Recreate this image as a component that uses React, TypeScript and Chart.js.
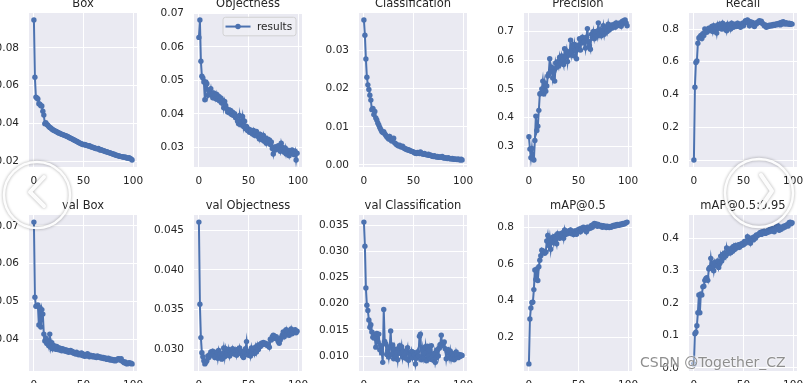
import { useEffect, useRef } from "react";
import { Chart, registerables } from "chart.js";

Chart.register(...registerables);

// ---------------- data ----------------
const epochs: number[] = Array.from({ length: 100 }, (_, i) => i);

const boxLoss = [
  0.0947, 0.0645, 0.054, 0.0535, 0.053, 0.0505, 0.0502, 0.0495, 0.0493, 0.0465,
  0.0445, 0.04, 0.0405, 0.0395, 0.0392, 0.0385, 0.038, 0.0377, 0.0372, 0.0368,
  0.0365, 0.0362, 0.036, 0.0357, 0.0353, 0.0351, 0.0349, 0.0346, 0.0344, 0.0342,
  0.034, 0.0338, 0.0336, 0.0333, 0.0332, 0.0328, 0.0326, 0.0323, 0.0321, 0.0318,
  0.0315, 0.0312, 0.0309, 0.0307, 0.0304, 0.0301, 0.0298, 0.0296, 0.0293, 0.0291,
  0.0289, 0.029, 0.0287, 0.0286, 0.0284, 0.0282, 0.0283, 0.0279, 0.0277, 0.0276,
  0.0274, 0.0272, 0.027, 0.0268, 0.0267, 0.0269, 0.0264, 0.026, 0.0262, 0.0259,
  0.0257, 0.0256, 0.0253, 0.0252, 0.025, 0.0248, 0.0246, 0.0245, 0.0243, 0.0241,
  0.0239, 0.0238, 0.0235, 0.0233, 0.0232, 0.023, 0.0229, 0.0227, 0.0226, 0.0225,
  0.0224, 0.0222, 0.0224, 0.022, 0.0219, 0.0217, 0.022, 0.0215, 0.0214, 0.0208,
];

const objLoss = [
  0.0628, 0.068, 0.0557, 0.0512, 0.0507, 0.0495, 0.0442, 0.0495, 0.049, 0.0455,
  0.047, 0.0462, 0.0475, 0.0455, 0.0448, 0.0462, 0.0455, 0.0445, 0.0458, 0.0443,
  0.0452, 0.0438, 0.0447, 0.0432, 0.044, 0.0418, 0.0437, 0.0425, 0.0415, 0.0405,
  0.0412, 0.0402, 0.041, 0.0398, 0.0405, 0.0395, 0.04, 0.0388, 0.0392, 0.0378,
  0.037, 0.0395, 0.0368, 0.0375, 0.0392, 0.0362, 0.0378, 0.0356, 0.0362, 0.035,
  0.0355, 0.0345, 0.0352, 0.0348, 0.034, 0.035, 0.0336, 0.0345, 0.0347, 0.0333,
  0.034, 0.0325, 0.0338, 0.033, 0.0322, 0.0335, 0.0318, 0.0328, 0.0312, 0.0325,
  0.0315, 0.0322, 0.0308, 0.0316, 0.0296, 0.028, 0.03, 0.0292, 0.0302, 0.0295,
  0.0305, 0.0298, 0.0288, 0.0312, 0.03, 0.0295, 0.0285, 0.0298, 0.028, 0.0292,
  0.0287, 0.0275, 0.029, 0.0282, 0.0292, 0.0285, 0.0278, 0.0288, 0.0262, 0.0282,
];

const clsLoss = [
  0.038, 0.034, 0.0278, 0.023, 0.021, 0.0198, 0.0183, 0.017, 0.0145, 0.0148,
  0.0132, 0.014, 0.0123, 0.0118, 0.011, 0.0105, 0.0098, 0.0093, 0.0088, 0.0085,
  0.0087, 0.0082, 0.0078, 0.0074, 0.0071, 0.0068, 0.0075, 0.0066, 0.0063, 0.0068,
  0.007, 0.0058, 0.0056, 0.0053, 0.0052, 0.005, 0.0052, 0.0048, 0.0047, 0.0049,
  0.0045, 0.0043, 0.0042, 0.0041, 0.0039, 0.004, 0.0038, 0.0037, 0.0036, 0.0035,
  0.0034, 0.0032, 0.0031, 0.003, 0.0033, 0.0031, 0.003, 0.0034, 0.0031, 0.0029,
  0.0028, 0.003, 0.0028, 0.0027, 0.0026, 0.0028, 0.0025, 0.0026, 0.0024, 0.0023,
  0.0022, 0.0024, 0.0022, 0.0021, 0.0022, 0.002, 0.0021, 0.0021, 0.002, 0.0022,
  0.0019, 0.0018, 0.0019, 0.0018, 0.0017, 0.0019, 0.0017, 0.0016, 0.0016, 0.0017,
  0.0015, 0.0016, 0.0015, 0.0015, 0.0014, 0.0016, 0.0014, 0.0013, 0.0015, 0.0013,
];

const precision = [
  0.333, 0.29, 0.26, 0.292, 0.256, 0.252, 0.32, 0.405, 0.355, 0.37,
  0.425, 0.482, 0.485, 0.5, 0.527, 0.482, 0.52, 0.492, 0.51, 0.545,
  0.553, 0.605, 0.56, 0.575, 0.538, 0.56, 0.527, 0.59, 0.575, 0.595,
  0.58, 0.61, 0.59, 0.615, 0.6, 0.585, 0.64, 0.612, 0.632, 0.595,
  0.625, 0.618, 0.67, 0.625, 0.65, 0.615, 0.655, 0.635, 0.605, 0.65,
  0.64, 0.675, 0.635, 0.67, 0.68, 0.66, 0.665, 0.642, 0.68, 0.71,
  0.665, 0.65, 0.638, 0.69, 0.68, 0.7, 0.675, 0.69, 0.7, 0.685,
  0.73, 0.69, 0.705, 0.685, 0.7, 0.72, 0.69, 0.71, 0.715, 0.7,
  0.725, 0.705, 0.71, 0.722, 0.712, 0.718, 0.725, 0.715, 0.73, 0.72,
  0.728, 0.722, 0.73, 0.718, 0.735, 0.728, 0.738, 0.74, 0.73, 0.72,
];

const recall = [
  0.0, 0.445, 0.595, 0.605, 0.713, 0.745, 0.752, 0.76, 0.742, 0.772,
  0.76, 0.8, 0.795, 0.78, 0.79, 0.805, 0.79, 0.8, 0.815, 0.785,
  0.82, 0.8, 0.81, 0.775, 0.825, 0.805, 0.83, 0.81, 0.8, 0.835,
  0.815, 0.8, 0.82, 0.79, 0.83, 0.81, 0.825, 0.8, 0.835, 0.82,
  0.81, 0.83, 0.82, 0.815, 0.835, 0.82, 0.83, 0.81, 0.825, 0.835,
  0.82, 0.84, 0.85, 0.845, 0.855, 0.835, 0.82, 0.845, 0.83, 0.84,
  0.825, 0.815, 0.835, 0.83, 0.84, 0.845, 0.85, 0.84, 0.848, 0.835,
  0.83, 0.82, 0.825, 0.81, 0.82, 0.815, 0.823, 0.818, 0.825, 0.82,
  0.828, 0.822, 0.83, 0.825, 0.832, 0.828, 0.835, 0.825, 0.84, 0.83,
  0.845, 0.835, 0.83, 0.838, 0.832, 0.83, 0.835, 0.828, 0.833, 0.83,
];

const valBoxLoss = [
  0.071, 0.0511, 0.0487, 0.0488, 0.049, 0.0437, 0.0483, 0.0432, 0.0478, 0.0466,
  0.0413, 0.0395, 0.0402, 0.0388, 0.0395, 0.0382, 0.0413, 0.0378, 0.039, 0.0374,
  0.0383, 0.0376, 0.0373, 0.038, 0.0372, 0.0377, 0.0371, 0.0375, 0.0369, 0.0374,
  0.037, 0.0368, 0.0372, 0.0367, 0.037, 0.0365, 0.0368, 0.037, 0.0365, 0.0367,
  0.0362, 0.0364, 0.036, 0.0365, 0.0361, 0.0358, 0.0362, 0.0358, 0.0363, 0.0356,
  0.036, 0.0354, 0.0358, 0.0355, 0.0361, 0.0356, 0.0353, 0.0357, 0.0355, 0.0353,
  0.0356, 0.0352, 0.0354, 0.0351, 0.0355, 0.0352, 0.0353, 0.035, 0.0352, 0.0349,
  0.0351, 0.0348, 0.035, 0.0347, 0.0346, 0.0349, 0.0345, 0.0347, 0.0344, 0.0346,
  0.0343, 0.0345, 0.0342, 0.0344, 0.0346, 0.0348, 0.0347, 0.0344, 0.0348, 0.0342,
  0.034, 0.0337, 0.0339, 0.0335, 0.0334, 0.0336, 0.0337, 0.0335, 0.0336, 0.0334,
];

const valObjLoss = [
  0.046, 0.0357, 0.0315, 0.0296, 0.0291, 0.0286, 0.0282, 0.0284, 0.0286, 0.0292,
  0.029, 0.0294, 0.0297, 0.0293, 0.0298, 0.0295, 0.029, 0.0293, 0.0297, 0.0289,
  0.0299, 0.0294, 0.029, 0.0288, 0.0295, 0.0302, 0.0291, 0.0301, 0.0295, 0.0293,
  0.03, 0.0292, 0.0298, 0.0295, 0.0301, 0.0296, 0.0294, 0.0299, 0.0293, 0.03,
  0.0296, 0.0302, 0.0295, 0.0298, 0.0292, 0.029, 0.0297, 0.0301, 0.031, 0.0294,
  0.0293, 0.0298, 0.0292, 0.0302, 0.0296, 0.03, 0.0295, 0.0303, 0.0297, 0.0305,
  0.03, 0.0306, 0.0304, 0.0308, 0.0306, 0.0309, 0.0307, 0.0308, 0.0306, 0.0305,
  0.0307, 0.0303, 0.0313, 0.0312, 0.0316, 0.0318, 0.0317, 0.0314, 0.0316, 0.0313,
  0.031, 0.0308, 0.0312, 0.0315, 0.0318, 0.0322, 0.0316, 0.032, 0.0325, 0.0319,
  0.0323, 0.0318, 0.0321, 0.0326, 0.032, 0.0324, 0.0322, 0.0325, 0.0321, 0.0323,
];

const valClsLoss = [
  0.0356, 0.031, 0.023, 0.0197, 0.0187, 0.0169, 0.0155, 0.016, 0.0146, 0.0136,
  0.0142, 0.0134, 0.0117, 0.0143, 0.0128, 0.0142, 0.0112, 0.012, 0.0106, 0.0088,
  0.0189, 0.0128, 0.0123, 0.0103, 0.011, 0.0098, 0.0118, 0.0148, 0.0103, 0.0121,
  0.0095, 0.0113, 0.01, 0.0107, 0.0093, 0.0115, 0.012, 0.0105, 0.0118, 0.0098,
  0.011, 0.0102, 0.0096, 0.0108, 0.0116, 0.0092, 0.0105, 0.01, 0.0109, 0.0097,
  0.0107, 0.0102, 0.0085, 0.0096, 0.0108, 0.01, 0.0138, 0.0142, 0.0093, 0.0112,
  0.0096, 0.0105, 0.0118, 0.0091, 0.0119, 0.01, 0.0112, 0.0094, 0.012, 0.0098,
  0.0092, 0.0105, 0.0088, 0.0097, 0.0112, 0.01, 0.0115, 0.0122, 0.014, 0.012,
  0.0125, 0.0127, 0.0114, 0.0095, 0.0108, 0.0112, 0.0098, 0.011, 0.0095, 0.0105,
  0.01, 0.0093, 0.0096, 0.0108, 0.0101, 0.0097, 0.0103, 0.0099, 0.0102, 0.0101,
];

const map50 = [
  0.055, 0.3, 0.36, 0.39, 0.392, 0.46, 0.567, 0.515, 0.572, 0.51,
  0.585, 0.62, 0.645, 0.675, 0.662, 0.67, 0.658, 0.665, 0.725, 0.755,
  0.7, 0.74, 0.68, 0.725, 0.745, 0.715, 0.75, 0.735, 0.71, 0.765,
  0.75, 0.74, 0.765, 0.755, 0.77, 0.74, 0.785, 0.76, 0.775, 0.765,
  0.78, 0.77, 0.785, 0.765, 0.775, 0.76, 0.78, 0.77, 0.762, 0.785,
  0.78, 0.79, 0.775, 0.795, 0.785, 0.8, 0.79, 0.795, 0.775, 0.8,
  0.79, 0.8, 0.795, 0.81, 0.8, 0.815, 0.82, 0.81, 0.818, 0.805,
  0.815, 0.81, 0.805, 0.81, 0.8, 0.808, 0.802, 0.805, 0.798, 0.805,
  0.8, 0.798, 0.804, 0.8, 0.806, 0.81, 0.805, 0.812, 0.808, 0.815,
  0.81, 0.815, 0.812, 0.818, 0.815, 0.82, 0.818, 0.822, 0.825, 0.828,
];

const map5095 = [
  0.012, 0.105, 0.11, 0.13, 0.17, 0.225, 0.17, 0.228, 0.225, 0.25,
  0.252, 0.27, 0.275, 0.278, 0.27, 0.305, 0.31, 0.338, 0.31, 0.322,
  0.3, 0.325, 0.315, 0.32, 0.33, 0.31, 0.322, 0.345, 0.33, 0.35,
  0.34, 0.355, 0.345, 0.37, 0.352, 0.36, 0.365, 0.355, 0.37, 0.36,
  0.375, 0.365, 0.378, 0.37, 0.375, 0.38, 0.372, 0.382, 0.378, 0.385,
  0.38, 0.39, 0.385, 0.392, 0.405, 0.395, 0.4, 0.385, 0.398, 0.402,
  0.395, 0.405, 0.4, 0.41, 0.408, 0.412, 0.415, 0.418, 0.412, 0.42,
  0.418, 0.422, 0.415, 0.42, 0.418, 0.425, 0.42, 0.428, 0.422, 0.43,
  0.425, 0.42, 0.428, 0.435, 0.43, 0.438, 0.425, 0.432, 0.428, 0.435,
  0.432, 0.438, 0.435, 0.44, 0.442, 0.438, 0.448, 0.45, 0.445, 0.448,
];

const xTicks = [0, 50, 100];
const boxTicks = [0.02, 0.04, 0.06, 0.08];
const objTicks = [0.03, 0.04, 0.05, 0.06, 0.07];
const clsTicks = [0.0, 0.01, 0.02, 0.03];
const precTicks = [0.3, 0.4, 0.5, 0.6, 0.7];
const recTicks = [0.0, 0.2, 0.4, 0.6, 0.8];
const valBoxTicks = [0.04, 0.05, 0.06, 0.07];
const valObjTicks = [0.03, 0.035, 0.04, 0.045];
const valClsTicks = [0.01, 0.015, 0.02, 0.025, 0.03, 0.035];
const map50Ticks = [0.2, 0.4, 0.6, 0.8];
const map5095Ticks = [0.0, 0.1, 0.2, 0.3, 0.4];

// ---------------- layout / style ----------------
const BLUE = "#4C72B0";
const BG = "#EAEAF2";
const TEXT = "#262626";
const COL_LEFT = [29, 194, 359, 524, 689];
const ROW_TOP = [13, 215];
const ROW_H = [154, 156];
const PLOT_W = 108;
const Y_AXIS_W = 50;
const TITLE_SPACE = 22;
const X_AXIS_H = 25;
const RIGHT_PAD = 18;

type Panel = {
  title: string;
  values: number[];
  ticks: number[];
  dec: number;
  col: number;
  row: number;
  legend?: boolean;
};

const panels: Panel[] = [
  { title: "Box", values: boxLoss, ticks: boxTicks, dec: 2, col: 0, row: 0 },
  { title: "Objectness", values: objLoss, ticks: objTicks, dec: 2, col: 1, row: 0, legend: true },
  { title: "Classification", values: clsLoss, ticks: clsTicks, dec: 2, col: 2, row: 0 },
  { title: "Precision", values: precision, ticks: precTicks, dec: 1, col: 3, row: 0 },
  { title: "Recall", values: recall, ticks: recTicks, dec: 1, col: 4, row: 0 },
  { title: "val Box", values: valBoxLoss, ticks: valBoxTicks, dec: 2, col: 0, row: 1 },
  { title: "val Objectness", values: valObjLoss, ticks: valObjTicks, dec: 3, col: 1, row: 1 },
  { title: "val Classification", values: valClsLoss, ticks: valClsTicks, dec: 3, col: 2, row: 1 },
  { title: "mAP@0.5", values: map50, ticks: map50Ticks, dec: 1, col: 3, row: 1 },
  { title: "mAP@0.5:0.95", values: map5095, ticks: map5095Ticks, dec: 1, col: 4, row: 1 },
];

const bgPlugin = {
  id: "bgPlugin",
  beforeDraw(chart: any) {
    const { ctx, chartArea: a } = chart;
    ctx.save();
    ctx.fillStyle = BG;
    ctx.fillRect(a.left, a.top, a.right - a.left, a.bottom - a.top);
    ctx.restore();
  },
};

const titlePlugin = {
  id: "titlePlugin",
  afterDraw(chart: any, _args: any, opts: any) {
    const { ctx, chartArea: a } = chart;
    ctx.save();
    ctx.font = '11.5px "DejaVu Sans"';
    ctx.fillStyle = TEXT;
    ctx.textAlign = "center";
    ctx.textBaseline = "alphabetic";
    ctx.fillText(opts.text || "", (a.left + a.right) / 2, a.top - 6.5);
    ctx.restore();
  },
};

const legendPlugin = {
  id: "legendPlugin",
  afterDraw(chart: any, _args: any, opts: any) {
    if (!opts.show) return;
    const { ctx, chartArea: a } = chart;
    const w = 73;
    const h = 18.5;
    const x = a.right - 6 - w;
    const y = a.top + 4.3;
    ctx.save();
    ctx.beginPath();
    const r = 2.5;
    ctx.moveTo(x + r, y);
    ctx.lineTo(x + w - r, y);
    ctx.quadraticCurveTo(x + w, y, x + w, y + r);
    ctx.lineTo(x + w, y + h - r);
    ctx.quadraticCurveTo(x + w, y + h, x + w - r, y + h);
    ctx.lineTo(x + r, y + h);
    ctx.quadraticCurveTo(x, y + h, x, y + h - r);
    ctx.lineTo(x, y + r);
    ctx.quadraticCurveTo(x, y, x + r, y);
    ctx.closePath();
    ctx.fillStyle = "rgba(238,238,244,0.85)";
    ctx.fill();
    ctx.strokeStyle = "#CCCCCC";
    ctx.lineWidth = 0.8;
    ctx.stroke();
    const cy = y + h / 2;
    ctx.strokeStyle = BLUE;
    ctx.lineWidth = 2;
    ctx.beginPath();
    ctx.moveTo(x + 2.5, cy);
    ctx.lineTo(x + 27.5, cy);
    ctx.stroke();
    ctx.fillStyle = BLUE;
    ctx.beginPath();
    ctx.arc(x + 15, cy, 2.7, 0, Math.PI * 2);
    ctx.fill();
    ctx.font = '10.5px "DejaVu Sans"';
    ctx.fillStyle = TEXT;
    ctx.textAlign = "left";
    ctx.textBaseline = "middle";
    ctx.fillText("results", x + 34, cy + 0.5);
    ctx.restore();
  },
};

function PanelChart({ p }: { p: Panel }) {
  const ref = useRef<HTMLCanvasElement | null>(null);
  const plotH = ROW_H[p.row];
  const W = Y_AXIS_W + PLOT_W + RIGHT_PAD;
  const H = TITLE_SPACE + plotH + X_AXIS_H;

  useEffect(() => {
    if (!ref.current) return;
    const lo = Math.min(...p.values);
    const hi = Math.max(...p.values);
    const pad = (hi - lo) * 0.05;
    const font = { family: "DejaVu Sans", size: 10.5 };
    const chart = new Chart(ref.current, {
      type: "line",
      data: {
        datasets: [
          {
            label: "results",
            data: p.values.map((v, i) => ({ x: epochs[i], y: v })),
            borderColor: BLUE,
            backgroundColor: BLUE,
            borderWidth: 2,
            pointRadius: 2.7,
            pointBorderWidth: 0,
            pointBackgroundColor: BLUE,
            tension: 0,
          },
        ],
      },
      options: {
        responsive: false,
        animation: false,
        devicePixelRatio: 1,
        events: [],
        layout: { padding: { top: TITLE_SPACE, right: RIGHT_PAD, left: 0, bottom: 0 } },
        plugins: {
          legend: { display: false },
          tooltip: { enabled: false },
          titlePlugin: { text: p.title },
          legendPlugin: { show: !!p.legend },
        } as any,
        scales: {
          x: {
            type: "linear",
            min: -4.95,
            max: 103.95,
            afterBuildTicks: (s: any) => {
              s.ticks = xTicks.map((v) => ({ value: v }));
            },
            afterFit: (s: any) => {
              s.height = X_AXIS_H;
            },
            grid: { color: "#FFFFFF", lineWidth: 1, drawTicks: false },
            border: { display: false },
            ticks: {
              padding: 8,
              font,
              color: TEXT,
              autoSkip: false,
              maxRotation: 0,
              callback: (v: any) => String(v),
            },
          },
          y: {
            type: "linear",
            min: lo - pad,
            max: hi + pad,
            afterBuildTicks: (s: any) => {
              s.ticks = p.ticks.map((v) => ({ value: v }));
            },
            afterFit: (s: any) => {
              s.width = Y_AXIS_W;
            },
            grid: { color: "#FFFFFF", lineWidth: 1, drawTicks: false },
            border: { display: false },
            ticks: {
              padding: 10,
              font,
              color: TEXT,
              autoSkip: false,
              callback: (v: any) => Number(v).toFixed(p.dec),
            },
          },
        },
      },
      plugins: [bgPlugin, titlePlugin, legendPlugin],
    } as any);
    return () => chart.destroy();
  }, [p]);

  return (
    <canvas
      ref={ref}
      width={W}
      height={H}
      style={{
        position: "absolute",
        left: COL_LEFT[p.col] - Y_AXIS_W,
        top: ROW_TOP[p.row] - TITLE_SPACE,
        width: W,
        height: H,
      }}
    />
  );
}

export default function App() {
  return (
    <div
      style={{
        position: "fixed",
        left: 0,
        top: 0,
        width: 804,
        height: 383,
        overflow: "hidden",
        background: "#FFFFFF",
      }}
    >
      {panels.map((p) => (
        <PanelChart key={p.title} p={p} />
      ))}
      <svg
        width={804}
        height={383}
        style={{
          position: "absolute",
          left: 0,
          top: 0,
          pointerEvents: "none",
          filter: "drop-shadow(0 0 1.5px rgba(0,0,0,0.35))",
        }}
      >
        <g fill="none" stroke="rgba(255,255,255,0.95)" strokeLinecap="round" strokeLinejoin="round">
          <circle cx={37} cy={195} r={33} strokeWidth={2.5} />
          <polyline points="44,177 30,192 44,206" strokeWidth={4} />
          <circle cx={759} cy={193} r={34} strokeWidth={2.5} />
          <polyline points="761,175 772,191 761,207" strokeWidth={4} />
        </g>
      </svg>
      <div
        style={{
          position: "absolute",
          left: 640,
          top: 354,
          font: '14px "DejaVu Sans"',
          color: "rgba(130,130,130,0.9)",
          textShadow: "0 0 2px #fff, 0 0 2px #fff",
          whiteSpace: "nowrap",
        }}
      >
        CSDN @Together_CZ
      </div>
    </div>
  );
}
